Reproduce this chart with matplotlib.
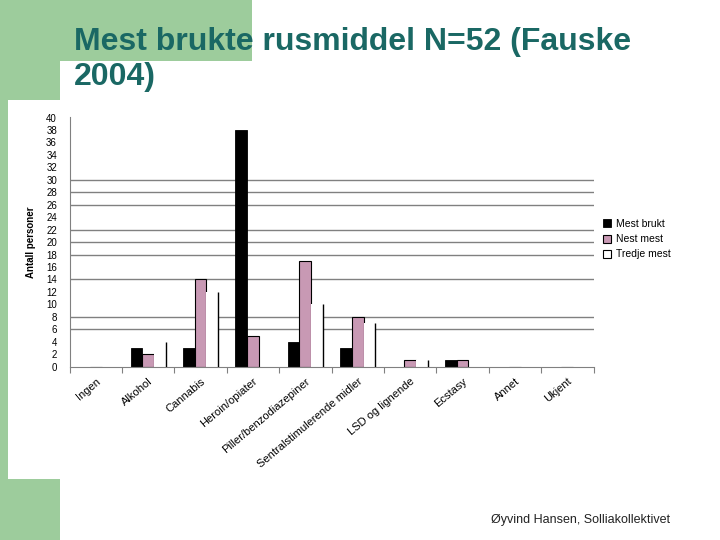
import numpy as np
import matplotlib
matplotlib.use('Agg')
import matplotlib.pyplot as plt
from matplotlib.patches import Rectangle, FancyBboxPatch, Patch

plt.rcParams['font.family'] = ['Liberation Sans', 'DejaVu Sans']

# data
categories = ['Ingen', 'Alkohol', 'Cannabis', 'Heroin/opiater', 'Piller/benzodiazepiner',
              'Sentralstimulerende midler', 'LSD og lignende', 'Ecstasy', 'Annet', 'Ukjent']
mest_brukt = [0, 3, 3, 38, 4, 3, 0, 1, 0, 0]
nest_mest = [0, 2, 14, 5, 17, 8, 1, 1, 0, 0]
tredje_mest = [0, 4, 12, 0, 10, 7, 1, 0, 0, 0]
series_labels = ['Mest brukt', 'Nest mest', 'Tredje mest']
y_ticks = list(range(0, 41, 2))
grid_levels = [6, 8, 14, 18, 20, 22, 26, 28, 30]  # only these lines show on the slide

GREEN = '#9dcc9c'
TEAL = '#1a6864'
PINK = '#c899b4'

fig = plt.figure(figsize=(7.2, 5.4), dpi=100)

# slide background in pixel coordinates
bg = fig.add_axes([0, 0, 1, 1], zorder=-10)
bg.set_xlim(0, 720)
bg.set_ylim(540, 0)
bg.axis('off')
bg.add_patch(Rectangle((0, 0), 252, 61, color=GREEN, lw=0))
bg.add_patch(Rectangle((0, 0), 60, 540, color=GREEN, lw=0))
bg.add_patch(FancyBboxPatch((60, 61), 720, 560, boxstyle='round,pad=0,rounding_size=28',
                            fc='white', ec='none'))
bg.add_patch(Rectangle((8, 100), 60, 379, color='white', lw=0))

fig.text(74 / 720, 1 - 27 / 540, 'Mest brukte rusmiddel N=52 (Fauske\n2004)',
         fontsize=23, fontweight='bold', color=TEAL, ha='left', va='top', linespacing=1.2)

fig.text(670 / 720, 1 - 523 / 540, 'Øyvind Hansen, Solliakollektivet',
         fontsize=9, color='#222222', ha='right', va='baseline')

ax = fig.add_axes([69.5 / 720, 1 - 366.7 / 540, 524 / 720, 249.2 / 540])
ax.set_facecolor('none')

x = np.arange(len(categories)) + 0.5
w = 0.223

for lvl in grid_levels:
    ax.axhline(lvl, color='#808080', lw=1, zorder=0)

ax.bar(x - w, mest_brukt, w, color='black', edgecolor='black', lw=0.6, zorder=2)
ax.bar(x, nest_mest, w, color=PINK, edgecolor='black', lw=0.8, zorder=2)
ax.bar(x + w, tredje_mest, w, color='white', edgecolor='none', zorder=2)
ax.vlines(x + 1.5 * w, 0, tredje_mest, color='black', lw=1, zorder=3)

ax.set_xlim(0, len(categories))
ax.set_ylim(0, 40)
ax.set_yticks(y_ticks)
ax.tick_params(axis='y', length=0, pad=9, labelsize=7)

ax.set_xticks(np.arange(len(categories) + 1))
ax.set_xticklabels([])
ax.set_xticks(x, minor=True)
ax.set_xticklabels(categories, minor=True, rotation=40, ha='right', va='top',
                   rotation_mode='anchor', fontsize=8)
ax.tick_params(axis='x', which='major', length=4, color='#808080', width=0.8)
ax.tick_params(axis='x', which='minor', length=0, pad=7)

for side in ['top', 'right']:
    ax.spines[side].set_visible(False)
ax.spines['left'].set_color('#808080')
ax.spines['bottom'].set_color('#808080')

ax.set_ylabel('Antall personer', fontsize=7, fontweight='bold')
ax.yaxis.set_label_coords(-0.064, 0.5)

handles = [Patch(fc='black', ec='black', lw=0.6),
           Patch(fc=PINK, ec='black', lw=0.8),
           Patch(fc='white', ec='black', lw=0.8)]
fig.legend(handles, series_labels, loc='upper left', bbox_to_anchor=(603 / 720, 1 - 219 / 540),
           frameon=False, fontsize=7.5, handlelength=0.8, handleheight=0.8,
           handletextpad=0.4, labelspacing=0.5, borderpad=0, borderaxespad=0)

fig.savefig('out.png', dpi=100)
